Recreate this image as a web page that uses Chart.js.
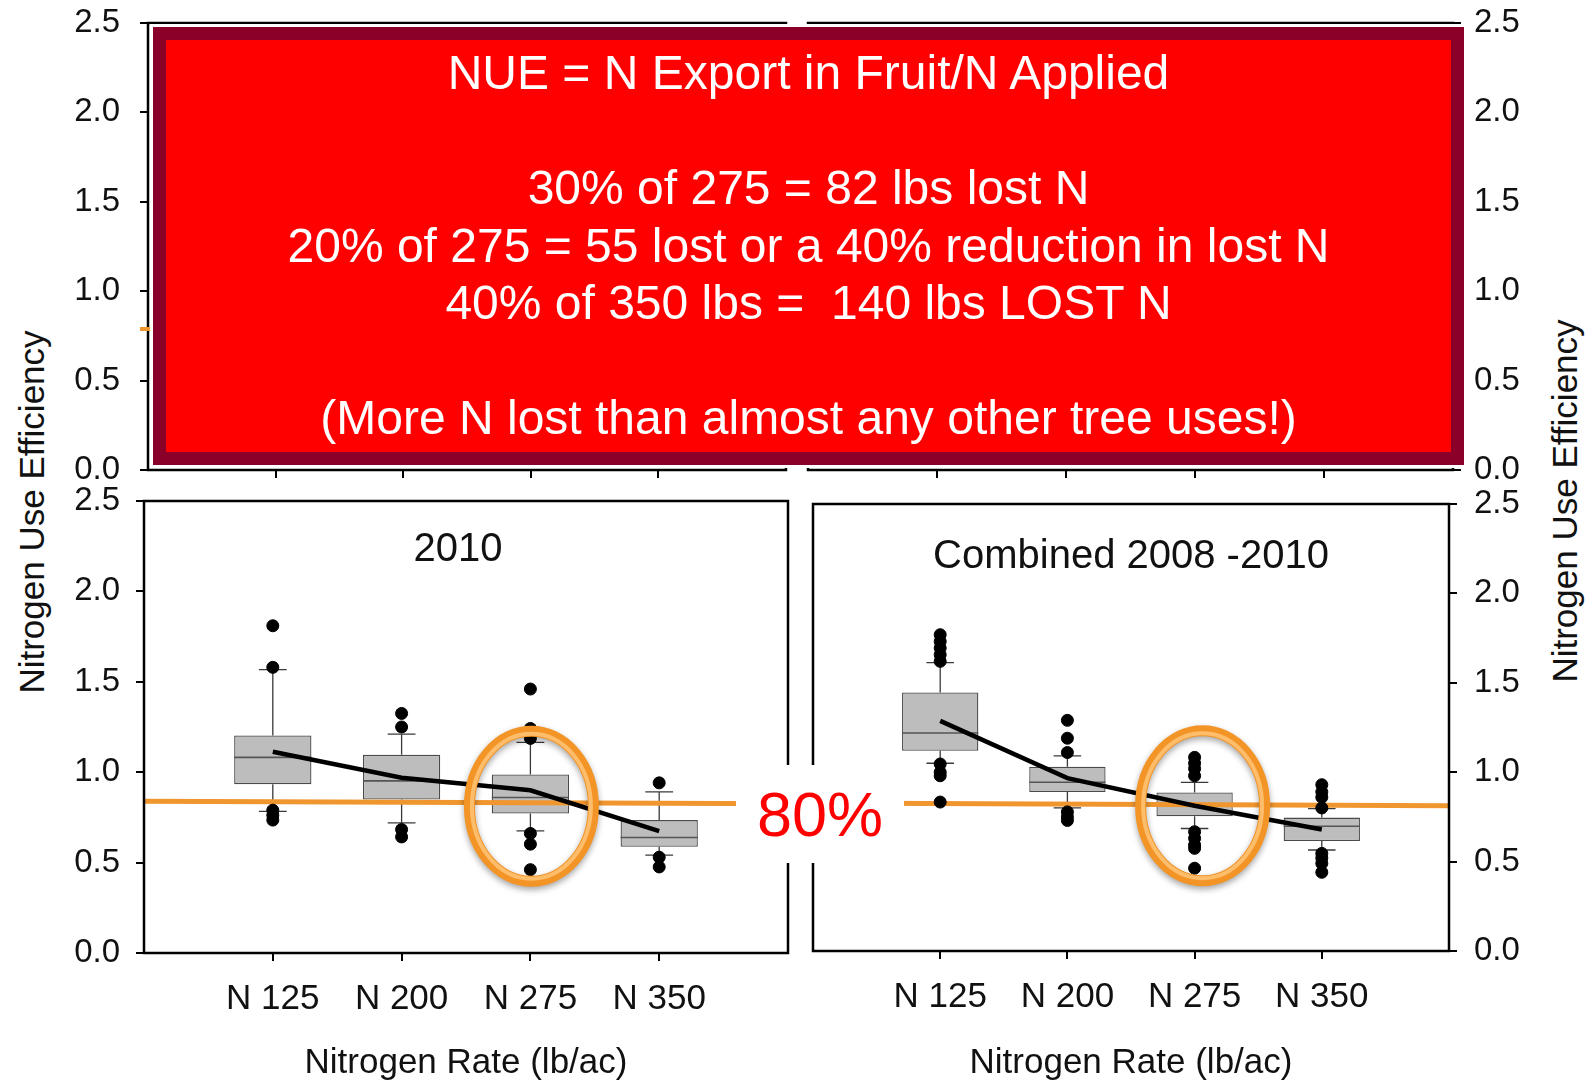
<!DOCTYPE html>
<html lang="en">
<head>
<meta charset="UTF-8">
<title>Nitrogen Use Efficiency</title>
<script src="https://cdn.jsdelivr.net/npm/chart.js"></script>
<style>
  body { margin: 0; background: #fff; font-family: "Liberation Sans", Arial, sans-serif; }
  #page { position: relative; width: 1589px; height: 1080px; overflow: hidden; background: #fff; }
  .panel { position: absolute; }
  .ytitle { position: absolute; font-size: 35px; color: #111; white-space: nowrap;
            transform: translate(-50%, -50%) rotate(-90deg); }
  #note { position: absolute; left: 153px; top: 27px; width: 1311px; height: 438px; box-sizing: border-box;
          border: 13px solid #8a0029; background: #ff0000; color: #fff; font-size: 48px; line-height: 57.5px;
          text-align: center; padding-top: 4px; box-shadow: 0 0 0 3px #fff; z-index: 5; }
  #pct { position: absolute; left: 736px; top: 765px; width: 168px; height: 98px; background: #fff;
         color: #ff0000; font-size: 63px; line-height: 98px; text-align: center; z-index: 5; }
  #stub { position: absolute; left: 140px; top: 327px; width: 12px; height: 4px; background: #f0962e; }
</style>
</head>
<body>
<div id="page">
  <div class="panel" style="left:60px; top:0; width:740px; height:492px"><canvas id="topLeft"></canvas></div>
  <div class="panel" style="left:800px; top:0; width:740px; height:492px"><canvas id="topRight"></canvas></div>
  <div class="panel" style="left:60px; top:475px; width:740px; height:605px"><canvas id="chart2010"></canvas></div>
  <div class="panel" style="left:800px; top:475px; width:740px; height:605px"><canvas id="chartAll"></canvas></div>

  <div class="ytitle" style="left:32px; top:512px">Nitrogen Use Efficiency</div>
  <div class="ytitle" style="left:1565px; top:501px">Nitrogen Use Efficiency</div>
  <div id="stub"></div>

  <div id="note">
    <div>NUE = N Export in Fruit/N Applied</div>
    <div>&nbsp;</div>
    <div>30% of 275 = 82 lbs lost N</div>
    <div>20% of 275 = 55 lost or a 40% reduction in lost N</div>
    <div>40% of 350 lbs = &nbsp;140 lbs LOST N</div>
    <div>&nbsp;</div>
    <div>(More N lost than almost any other tree uses!)</div>
  </div>
  <div id="pct">80%</div>
</div>

<script>
// categories on the x axis, with an empty slot at each edge of the frame
const categories = ['N 125', 'N 200', 'N 275', 'N 350'];
const axisLabels = ['', ...categories, ''];

// 2010
const q1_2010 = [0.934, 0.849, 0.771, 0.587];
const q3_2010 = [1.203, 1.096, 0.987, 0.735];
const median2010 = [1.082, 0.952, 0.86, 0.639];
const whiskerLow2010 = [0.783, 0.72, 0.675, 0.541];
const whiskerHigh2010 = [1.567, 1.211, 1.165, 0.891];
const mean2010 = [1.113, 0.969, 0.90, 0.674];
const outliers2010 = [
    [1.81, 1.58, 0.79, 0.762, 0.735],
    [1.325, 1.25, 0.683, 0.642],
    [1.46, 1.242, 1.187, 0.661, 0.602, 0.461],
    [0.941, 0.53, 0.476]
];
const target2010 = [0.84, 0.826];

// combined 2008 - 2010
const q1_all = [1.12, 0.889, 0.754, 0.615];
const q3_all = [1.446, 1.031, 0.887, 0.746];
const medianAll = [1.219, 0.944, 0.82, 0.698];
const whiskerLowAll = [1.05, 0.80, 0.685, 0.565];
const whiskerHighAll = [1.613, 1.091, 0.943, 0.796];
const meanAll = [1.287, 0.967, 0.812, 0.68];
const outliersAll = [
    [1.769, 1.731, 1.694, 1.657, 1.62, 1.046, 1.0, 0.98, 0.833],
    [1.29, 1.19, 1.11, 0.778, 0.75, 0.73],
    [1.083, 1.05, 1.02, 0.98, 0.667, 0.63, 0.593, 0.574, 0.463],
    [0.93, 0.89, 0.86, 0.80, 0.546, 0.52, 0.49, 0.44]
];
const targetAll = [0.828, 0.813];

const FONT = '"Liberation Sans", Arial, sans-serif';

// whiskers + medians after the boxes, then frame, panel title and highlight ellipse
const panelPlugin = {
    id: 'panel',
    afterDatasetDraw(chart, args) {
        if (args.meta.type !== 'bar') return;
        const ds = chart.data.datasets[args.index];
        const st = ds.stats;
        const ctx = chart.ctx;
        const y = chart.scales.y;
        ctx.save();
        args.meta.data.forEach((bar, i) => {
            const k = i - 1;
            if (k < 0 || k >= st.median.length) return;
            const x = bar.x, half = bar.width / 2, cap = bar.width * 0.18;
            const top = y.getPixelForValue(ds.data[i][1]);
            const bot = y.getPixelForValue(ds.data[i][0]);
            const hi = y.getPixelForValue(st.high[k]);
            const lo = y.getPixelForValue(st.low[k]);
            const med = y.getPixelForValue(st.median[k]);
            ctx.strokeStyle = '#3a3a3a';
            ctx.lineWidth = 1.3;
            ctx.beginPath();
            ctx.moveTo(x, top); ctx.lineTo(x, hi);
            ctx.moveTo(x - cap, hi); ctx.lineTo(x + cap, hi);
            ctx.moveTo(x, bot); ctx.lineTo(x, lo);
            ctx.moveTo(x - cap, lo); ctx.lineTo(x + cap, lo);
            ctx.stroke();
            ctx.strokeStyle = '#555';
            ctx.lineWidth = 1.6;
            ctx.beginPath();
            ctx.moveTo(x - half, med); ctx.lineTo(x + half, med);
            ctx.stroke();
        });
        ctx.restore();
    },
    afterDraw(chart, args, opts) {
        const ctx = chart.ctx;
        const a = chart.chartArea;
        ctx.save();
        ctx.strokeStyle = '#000';
        ctx.lineWidth = 2.5;
        ctx.strokeRect(a.left, a.top, a.right - a.left, a.bottom - a.top);
        if (opts.title) {
            ctx.fillStyle = '#111';
            ctx.font = '40px ' + FONT;
            ctx.textAlign = 'center';
            ctx.textBaseline = 'middle';
            ctx.fillText(opts.title, (a.left + a.right) / 2 + (opts.titleDx || 0), a.top + opts.titleDy);
        }
        const e = opts.ellipse;
        if (e) {
            const cx = chart.scales.x.getPixelForValue(e.index) + e.dx;
            const cy = chart.scales.y.getPixelForValue(e.value);
            ctx.shadowColor = 'rgba(0,0,0,0.35)';
            ctx.shadowBlur = 6;
            ctx.shadowOffsetY = 3;
            ctx.beginPath();
            ctx.ellipse(cx, cy, e.rx, e.ry, 0, 0, Math.PI * 2);
            ctx.lineWidth = 11;
            ctx.strokeStyle = '#f39426';
            ctx.stroke();
            ctx.shadowColor = 'transparent';
            ctx.beginPath();
            ctx.ellipse(cx, cy, e.rx - 2.5, e.ry - 2.5, 0, 0, Math.PI * 2);
            ctx.lineWidth = 4;
            ctx.strokeStyle = 'rgba(255,196,120,0.85)';
            ctx.stroke();
        }
        ctx.restore();
    }
};

function pad(arr) {
    return [null, ...arr, null];
}

function makeDatasets(q1, q3, median, low, high, mean, outliers, target) {
    const points = [];
    outliers.forEach((list, k) => list.forEach(v => points.push({ x: categories[k], y: v })));
    return [
        {
            type: 'bar',
            data: pad(q1.map((v, k) => [v, q3[k]])),
            stats: { median: median, low: low, high: high },
            backgroundColor: '#bdbdbd',
            borderColor: '#4a4a4a',
            borderWidth: 1.3,
            borderSkipped: false,
            barPercentage: 0.6,
            categoryPercentage: 1,
            order: 10
        },
        {
            type: 'line',
            data: [target[0], null, null, null, null, target[1]],
            spanGaps: true,
            borderColor: '#f0962e',
            borderWidth: 5,
            pointRadius: 0,
            order: 5
        },
        {
            type: 'line',
            data: pad(mean),
            borderColor: '#000',
            borderWidth: 4.5,
            pointRadius: 0,
            tension: 0,
            order: 3
        },
        {
            type: 'scatter',
            data: points,
            backgroundColor: '#000',
            borderColor: '#000',
            pointRadius: 6,
            order: 2
        }
    ];
}

function makeChart(id, cfg) {
    const tickColor = ctx => (ctx.index > 0 && ctx.index < 5) ? '#000' : 'rgba(0,0,0,0)';
    return new Chart(document.getElementById(id), {
        type: 'bar',
        data: { labels: axisLabels, datasets: cfg.datasets || [] },
        plugins: [panelPlugin],
        options: {
            responsive: true,
            maintainAspectRatio: false,
            animation: false,
            layout: { padding: cfg.padding },
            scales: {
                x: {
                    type: 'category',
                    offset: false,
                    afterFit: s => { s.height = cfg.xHeight; s.paddingLeft = 0; s.paddingRight = 0; },
                    border: { display: false },
                    grid: { offset: false, drawOnChartArea: false, tickLength: 8, lineWidth: 2, color: tickColor },
                    ticks: {
                        display: cfg.xLabels,
                        autoSkip: false, maxRotation: 0, padding: 17,
                        color: '#111', font: { family: FONT, size: 35 }
                    },
                    title: {
                        display: cfg.xLabels,
                        text: 'Nitrogen Rate (lb/ac)',
                        color: '#111', padding: { top: 0, bottom: -4 },
                        font: { family: FONT, size: 35 }
                    }
                },
                y: {
                    position: cfg.yPos,
                    min: 0, max: 2.5,
                    // fixed width, and no extra room asked for the end labels
                    afterFit: s => { s.width = cfg.yWidth; s.paddingTop = 0; s.paddingBottom = 0; },
                    border: { display: false },
                    grid: { drawOnChartArea: false, tickLength: 8, lineWidth: 2, color: '#000' },
                    ticks: {
                        stepSize: 0.5, padding: cfg.yPad,
                        color: '#111', font: { family: FONT, size: 33 },
                        callback: v => Number(v).toFixed(1)
                    }
                }
            },
            plugins: {
                legend: { display: false },
                tooltip: { enabled: false },
                panel: { title: cfg.title, titleDx: cfg.titleDx, titleDy: cfg.titleDy, ellipse: cfg.ellipse }
            }
        }
    });
}

makeChart('topLeft', {
    padding: { top: 23, right: 14, left: 0, bottom: 0 },
    xHeight: 22, yWidth: 88, yPad: 20, yPos: 'left', xLabels: false
});

makeChart('topRight', {
    padding: { top: 23, right: 0, left: 8, bottom: 0 },
    xHeight: 22, yWidth: 87, yPad: 13, yPos: 'right', xLabels: false
});

makeChart('chart2010', {
    datasets: makeDatasets(q1_2010, q3_2010, median2010, whiskerLow2010, whiskerHigh2010, mean2010, outliers2010, target2010),
    padding: { top: 26, right: 12, left: 0, bottom: 0 },
    xHeight: 127, yWidth: 84, yPad: 16, yPos: 'left', xLabels: true,
    title: '2010', titleDx: -8, titleDy: 49,
    ellipse: { index: 3, value: 0.812, rx: 62, ry: 75, dx: 1 }
});

makeChart('chartAll', {
    datasets: makeDatasets(q1_all, q3_all, medianAll, whiskerLowAll, whiskerHighAll, meanAll, outliersAll, targetAll),
    padding: { top: 29, right: 0, left: 13, bottom: 0 },
    xHeight: 129, yWidth: 91, yPad: 17, yPos: 'right', xLabels: true,
    title: 'Combined 2008 -2010', titleDx: 0, titleDy: 53,
    ellipse: { index: 3, value: 0.812, rx: 62, ry: 75, dx: 8 }
});
</script>
</body>
</html>
